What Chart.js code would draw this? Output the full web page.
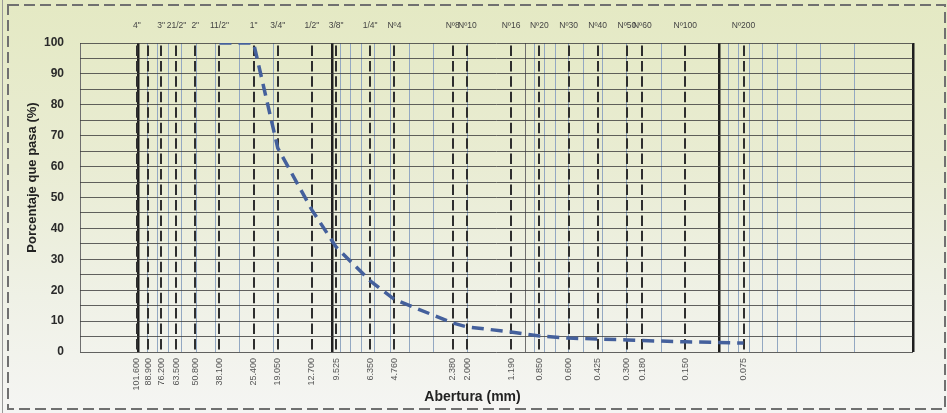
<!DOCTYPE html>
<html>
<head>
<meta charset="utf-8">
<script src="https://cdn.jsdelivr.net/npm/chart.js@4.4.1/dist/chart.umd.min.js"></script>
<style>
  html, body { margin: 0; padding: 0; }
  body {
    width: 947px; height: 413px; overflow: hidden;
    background: linear-gradient(#e4e9c3 0%, #e9ecd3 40%, #eff1e6 72%, #f5f5f3 100%);
  }
  #wrap { position: relative; width: 947px; height: 413px; }
</style>
</head>
<body>
<div id="wrap"><canvas id="granulometria" width="947" height="413"></canvas></div>
<script>
// tamices (mm) y sus rotulos
const sieveMm = [101.6, 88.9, 76.2, 63.5, 50.8, 38.1, 25.4, 19.05, 12.7, 9.525, 6.35, 4.76,
  2.38, 2.0, 1.19, 0.85, 0.6, 0.425, 0.3, 0.25, 0.15, 0.075];
const sieveMmLabels = ["101.600", "88.900", "76.200", "63.500", "50.800", "38.100", "25.400",
  "19.050", "12.700", "9.525", "6.350", "4.760", "2.380", "2.000", "1.190", "0.850", "0.600",
  "0.425", "0.300", "0.180", "0.150", "0.075"];
const sieveNames = ['4"', '', '3"', '21/2"', '2"', '11/2"', '1"', '3/4"', '1/2"', '3/8"', '1/4"',
  'Nº4', 'Nº8', 'Nº10', 'Nº16', 'Nº20', 'Nº30', 'Nº40', 'Nº50', 'Nº60', 'Nº100', 'Nº200'];

// curva granulometrica (% que pasa)
const curveMm = [38.1, 25.4, 19.05, 12.7, 9.525, 6.35, 4.76, 2.38, 2.0, 1.19, 0.85, 0.6,
  0.425, 0.3, 0.25, 0.15, 0.075];
const curvePass = [100, 100, 66, 46, 34, 23, 17, 9.4, 8.1, 6.5, 5.2, 4.5, 4.2, 3.9, 3.7, 3.3, 2.9];

// ejes
const yGridPct = [0, 5, 10, 15, 20, 25, 30, 35, 40, 45, 50, 55, 60, 65, 70, 75, 80, 85, 90, 95, 100];
const yLabelPct = [0, 10, 20, 30, 40, 50, 60, 70, 80, 90, 100];
const xMin = 0.01;
const xMax = 200;
const decades = [0.01, 0.1, 1, 10];
const mantissas = [1, 2, 3, 4, 5, 6, 7, 8, 9];
const heavyDecades = [0.01, 0.1, 10, 100];

const logGrid = [];
decades.forEach(d => mantissas.forEach(m => logGrid.push(+(m * d).toPrecision(3))));
logGrid.push(100, 200);

Chart.defaults.font.family = '"Liberation Sans", Arial, sans-serif';

const decor = {
  id: "decor",
  afterDraw(chart) {
    const c = chart.ctx;
    const a = chart.chartArea;
    c.save();
    c.fillStyle = "#222";
    c.textAlign = "center";
    c.textBaseline = "middle";
    c.font = 'bold 13px "Liberation Sans", Arial, sans-serif';
    c.save();
    c.translate(32, (a.top + a.bottom) / 2 - 20);
    c.rotate(-Math.PI / 2);
    c.fillText("Porcentaje que pasa (%)", 0, 0);
    c.restore();
    c.font = 'bold 14px "Liberation Sans", Arial, sans-serif';
    c.fillText("Abertura (mm)", (a.left + a.right) / 2 - 24, 397);

    // marco punteado
    c.strokeStyle = "#707070";
    c.lineWidth = 2;
    c.setLineDash([11, 5]);
    c.strokeRect(8, 5, 937, 404);
    c.setLineDash([]);
    c.lineWidth = 1;
    c.strokeStyle = "#999";
    c.beginPath();
    c.moveTo(2.5, 0);
    c.lineTo(2.5, 413);
    c.stroke();
    c.restore();
  }
};

new Chart(document.getElementById("granulometria"), {
  type: "line",
  data: {
    datasets: [{
      data: curveMm.map((x, i) => ({ x: x, y: curvePass[i] })),
      xAxisID: "xSieve",
      yAxisID: "y",
      borderColor: "#44609c",
      borderWidth: 3.5,
      borderDash: [12, 7],
      pointRadius: 0,
      tension: 0,
      fill: false
    }]
  },
  options: {
    responsive: false,
    animation: false,
    devicePixelRatio: 1,
    layout: { padding: { left: 0, right: 34, top: 0, bottom: 0 } },
    plugins: { legend: { display: false }, tooltip: { enabled: false } },
    scales: {
      xGrid: {
        type: "logarithmic",
        position: "bottom",
        min: xMin, max: xMax, reverse: true,
        z: -1,
        afterBuildTicks: s => { s.ticks = logGrid.map(v => ({ value: v })); },
        afterFit: s => { s.height = 0; },
        ticks: { display: false, autoSkip: false },
        border: { display: false },
        grid: {
          drawTicks: false,
          color: ctx => {
            const v = ctx.tick.value;
            if (heavyDecades.includes(v)) return "#1e1e1e";
            if (v === 1 || v === 200) return "#6f6f6f";
            return "#93a8c2";
          },
          lineWidth: ctx => heavyDecades.includes(ctx.tick.value) ? 2.5 : 1
        }
      },
      xSieve: {
        type: "logarithmic",
        position: "bottom",
        min: xMin, max: xMax, reverse: true,
        afterBuildTicks: s => { s.ticks = sieveMm.map(v => ({ value: v })); },
        afterFit: s => { s.height = 61; },
        ticks: {
          autoSkip: false,
          minRotation: 90, maxRotation: 90,
          padding: 6,
          color: "#555",
          font: { size: 9 },
          callback: (v, i) => sieveMmLabels[i]
        },
        border: { display: false, dash: [10.5, 4.95], dashOffset: 13 },
        grid: { drawTicks: false, color: "#2e2e2e", lineWidth: 2 }
      },
      xTop: {
        type: "logarithmic",
        position: "top",
        min: xMin, max: xMax, reverse: true,
        afterBuildTicks: s => { s.ticks = sieveMm.map(v => ({ value: v })); },
        afterFit: s => { s.height = 43; },
        ticks: {
          autoSkip: false,
          maxRotation: 0, minRotation: 0,
          padding: 4,
          color: "#444",
          font: { size: 8.5, family: '"Liberation Sans Narrow", "Liberation Sans", Arial, sans-serif' },
          callback: (v, i) => sieveNames[i]
        },
        border: { display: false },
        grid: { display: false }
      },
      y: {
        min: 0, max: 100,
        z: -1,
        afterBuildTicks: s => { s.ticks = yGridPct.map(v => ({ value: v })); },
        afterFit: s => { s.width = 80; },
        ticks: {
          autoSkip: false,
          padding: 16,
          color: "#2a2a2a",
          font: { size: 12, weight: "bold" },
          callback: v => yLabelPct.includes(v) ? String(v) : ""
        },
        border: { display: false },
        grid: { drawTicks: false, color: "rgba(60,60,60,0.8)", lineWidth: 1 }
      }
    }
  },
  plugins: [decor]
});
</script>
</body>
</html>
